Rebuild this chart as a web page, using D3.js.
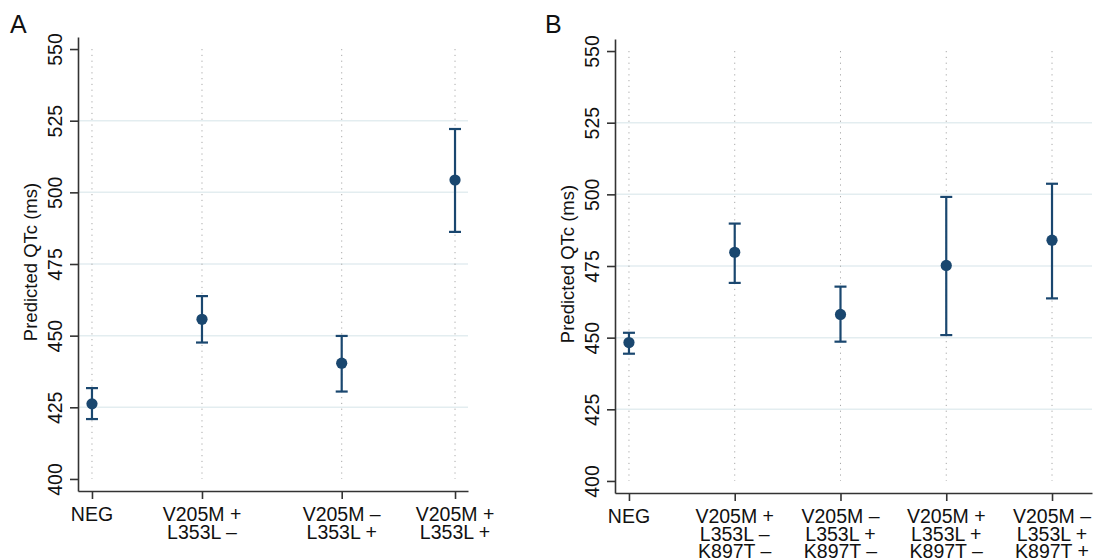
<!DOCTYPE html>
<html>
<head>
<meta charset="utf-8">
<script src="https://cdn.jsdelivr.net/npm/d3@7"></script>
<style>
  body { margin: 0; background: #fff; }
  text { font-family: "Liberation Sans", Arial, sans-serif; fill: #111; }
</style>
</head>
<body>
<svg id="chart" width="1095" height="559"></svg>
<script>
// panel A
const labelsA = [["NEG"], ["V205M +", "L353L \u2013"], ["V205M \u2013", "L353L +"], ["V205M +", "L353L +"]];
const groupA = [0, 1, 2.27, 3.3];
const estA = [426.2, 455.7, 440.4, 504.3];
const lowA = [420.9, 447.6, 430.5, 486.2];
const highA = [431.7, 463.8, 449.9, 522.1];

// panel B
const labelsB = [["NEG"], ["V205M +", "L353L \u2013", "K897T \u2013"], ["V205M \u2013", "L353L +", "K897T \u2013"],
  ["V205M +", "L353L +", "K897T \u2013"], ["V205M \u2013", "L353L +", "K897T +"]];
const groupB = [0, 1, 2, 3, 4];
const estB = [448.3, 479.8, 458.1, 475.2, 484.0];
const lowB = [444.4, 469.1, 448.6, 450.9, 463.7];
const highB = [451.7, 489.8, 467.8, 499.1, 503.7];

const yTicks = [400, 425, 450, 475, 500, 525, 550];
const gridTicks = [425, 450, 475, 500, 525];
const yTitle = "Predicted QTc (ms)";

const navy = "#1a476f";
const svg = d3.select("#chart");

function panel(opt) {
  const x = d3.scaleLinear().domain(opt.xDomain).range([opt.left, opt.right]);
  const y = d3.scaleLinear().domain([395.8, 554.2]).range([opt.bottom, opt.top]);
  const g = svg.append("g");

  // grid
  g.selectAll(".grid").data(gridTicks).enter().append("line")
    .attr("x1", opt.left).attr("x2", opt.right)
    .attr("y1", d => y(d)).attr("y2", d => y(d))
    .attr("stroke", "#e3edf0").attr("stroke-width", 1.5);

  // dotted category guides
  g.selectAll(".guide").data(opt.group).enter().append("line")
    .attr("x1", d => x(d)).attr("x2", d => x(d))
    .attr("y1", y(550)).attr("y2", y(400))
    .attr("stroke", "#a8a8a8").attr("stroke-width", 1)
    .attr("stroke-dasharray", "1.2,4.6");

  // y axis
  const ya = g.append("g").attr("transform", `translate(${opt.left},0)`)
    .call(d3.axisLeft(y).tickValues(yTicks).tickSize(8).tickSizeOuter(0));
  ya.select(".domain").attr("stroke", "#333").attr("stroke-width", 1.6);
  ya.selectAll(".tick line").attr("stroke", "#333").attr("stroke-width", 1.6);
  ya.selectAll(".tick text")
    .attr("x", 0).attr("dy", 0).attr("text-anchor", "middle")
    .attr("transform", "translate(-16,0) rotate(-90)")
    .style("font-size", "19.5px").style("font-family", "Liberation Sans, Arial, sans-serif").attr("fill", "#111");

  // x axis
  const xa = g.append("g").attr("transform", `translate(0,${opt.bottom})`)
    .call(d3.axisBottom(x).tickValues(opt.group).tickSize(8).tickSizeOuter(0).tickFormat(""));
  xa.select(".domain").attr("stroke", "#333").attr("stroke-width", 1.6);
  xa.selectAll(".tick line").attr("stroke", "#333").attr("stroke-width", 1.6);

  opt.labels.forEach((lines, i) => {
    const t = g.append("text")
      .attr("x", x(opt.group[i])).attr("y", opt.bottom + 30)
      .attr("text-anchor", "middle").style("font-size", "19.5px");
    lines.forEach((s, j) => {
      t.append("tspan").attr("x", x(opt.group[i])).attr("dy", j === 0 ? 0 : 17.5).text(s);
    });
  });

  // y title
  g.append("text")
    .attr("transform", `translate(${opt.left - 41},${(opt.top + opt.bottom) / 2 - 2}) rotate(-90)`)
    .attr("text-anchor", "middle").style("font-size", "18.5px").text(yTitle);

  // panel letter
  g.append("text").attr("x", opt.letterX).attr("y", 33)
    .style("font-size", "25px").text(opt.letter);

  // error bars
  const bars = g.selectAll(".bar").data(opt.group).enter().append("g");
  bars.append("line")
    .attr("x1", d => x(d)).attr("x2", d => x(d))
    .attr("y1", (d, i) => y(opt.low[i])).attr("y2", (d, i) => y(opt.high[i]))
    .attr("stroke", navy).attr("stroke-width", 2.2);
  bars.append("line")
    .attr("x1", d => x(d) - 6).attr("x2", d => x(d) + 6)
    .attr("y1", (d, i) => y(opt.low[i])).attr("y2", (d, i) => y(opt.low[i]))
    .attr("stroke", navy).attr("stroke-width", 2.2);
  bars.append("line")
    .attr("x1", d => x(d) - 6).attr("x2", d => x(d) + 6)
    .attr("y1", (d, i) => y(opt.high[i])).attr("y2", (d, i) => y(opt.high[i]))
    .attr("stroke", navy).attr("stroke-width", 2.2);
  bars.append("circle")
    .attr("cx", d => x(d)).attr("cy", (d, i) => y(opt.est[i]))
    .attr("r", 5.6).attr("fill", navy);
}

panel({
  letter: "A", letterX: 10,
  left: 78, right: 468, top: 37, bottom: 491,
  xDomain: [-0.127, 3.418],
  group: groupA, labels: labelsA, est: estA, low: lowA, high: highA
});

panel({
  letter: "B", letterX: 545,
  left: 615, right: 1092, top: 39, bottom: 493,
  xDomain: [-0.132, 4.378],
  group: groupB, labels: labelsB, est: estB, low: lowB, high: highB
});
</script>
</body>
</html>
